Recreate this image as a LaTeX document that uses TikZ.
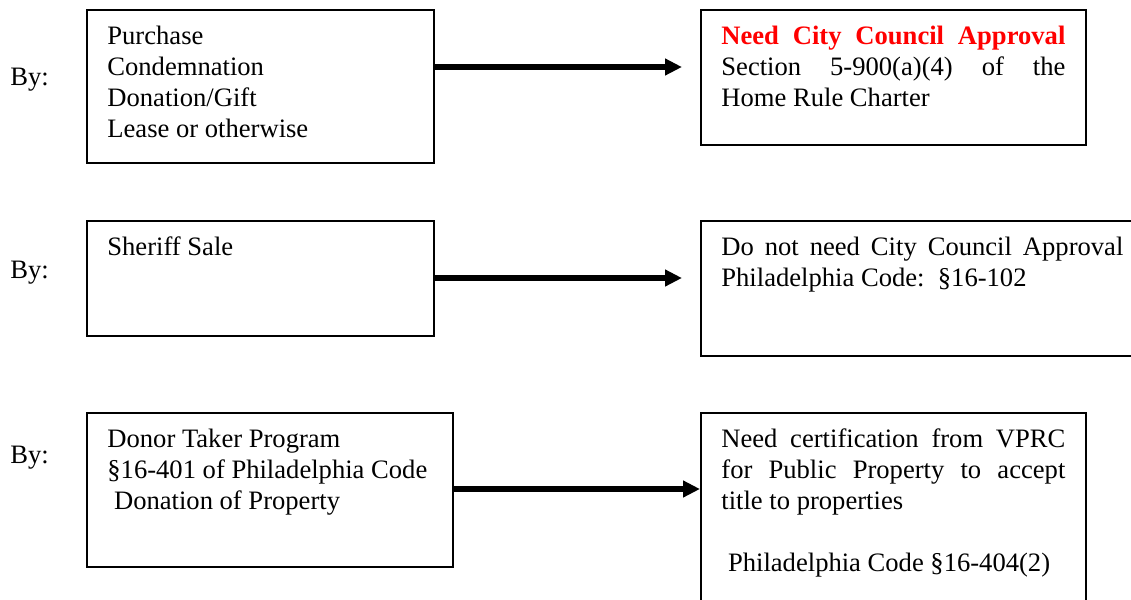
\documentclass[tikz,border=0pt]{standalone}
\usepackage{fontspec}
\setmainfont{Liberation Serif}
\usetikzlibrary{positioning}
\usetikzlibrary{arrows.meta}

\newcommand{\bodyfont}{\fontsize{13.3}{15.5}\selectfont}

\tikzset{
    boxframe/.style={draw, line width=1pt, rectangle, inner sep=0pt, anchor=north west},
    txt/.style={inner sep=0pt, anchor=north west, font=\bodyfont},
    flow/.style={line width=3pt, -{Triangle[length=8.5pt,width=8pt]}},
}

\begin{document}
\begin{tikzpicture}[x=0.5pt,y=-0.5pt]

    \useasboundingbox (0,0) rectangle (1131,600);
    \clip (0,0) rectangle (1131,600);

    % left column
    \node (byA) at (10,85) [anchor=base west, inner sep=0pt, font=\bodyfont] {By:};
    \node (byB) at (10,278) [anchor=base west, inner sep=0pt, font=\bodyfont] {By:};
    \node (byC) at (10,463) [anchor=base west, inner sep=0pt, font=\bodyfont] {By:};

    \node (purchBox) at (86,9) [boxframe, minimum width=173.5pt, minimum height=76.5pt] {};
    \node (sheriffBox) at (86,220) [boxframe, minimum width=173.5pt, minimum height=57.5pt] {};
    \node (donorBox) at (86,412) [boxframe, minimum width=183pt, minimum height=77pt] {};

    \node (purchText) [txt, text width=150pt, align=flush left, below right=6.5pt and 10.5pt of purchBox.north west]
        {\strut Purchase\\Condemnation\\Donation/Gift\\Lease or otherwise};
    \node (sheriffText) [txt, text width=150pt, align=flush left, below right=6.5pt and 10.5pt of sheriffBox.north west]
        {\strut Sheriff Sale};
    \node (donorText) [txt, text width=165pt, align=flush left, below right=6.5pt and 10.5pt of donorBox.north west]
        {\strut Donor Taker Program\\§16-401 of Philadelphia Code\\\hspace*{0.25em}Donation of Property};

    % right column
    \node (approvalBox) at (700,9) [boxframe, minimum width=192.5pt, minimum height=67.5pt] {};
    \node (noApprovalBox) at (700,220) [boxframe, minimum width=222pt, minimum height=67.5pt] {};
    \node (vprcBox) at (700,412) [boxframe, minimum width=192.5pt, minimum height=100pt] {};

    \node (approvalText) [txt, text width=172pt, align=justify, below right=6.5pt and 10.5pt of approvalBox.north west]
        {\strut\textcolor{red}{\textbf{Need City Council Approval}}\linebreak
         Section 5-900(a)(4) of the\linebreak Home Rule Charter};
    \node (noApprovalText) [txt, text width=201pt, align=justify, below right=6.5pt and 10.5pt of noApprovalBox.north west]
        {\strut Do not need City Council Approval\linebreak Philadelphia Code:\ \ §16-102};
    \node (vprcText) [txt, text width=172pt, align=justify, below right=6.5pt and 10.5pt of vprcBox.north west]
        {\strut Need certification from VPRC\linebreak for Public Property to accept\linebreak
         title to properties\\[15.5pt]\hspace*{0.25em}Philadelphia Code §16-404(2)};

    % arrows
    \coordinate (tipA) at (682,67);
    \coordinate (tipB) at (682,278);
    \coordinate (tipC) at (vprcBox.west |- 0,489);

    \draw [flow] (purchBox.east |- tipA) -- (tipA);
    \draw [flow] (sheriffBox.east |- tipB) -- (tipB);
    \draw [flow] (donorBox.east |- tipC) -- (tipC);

\end{tikzpicture}
\end{document}
